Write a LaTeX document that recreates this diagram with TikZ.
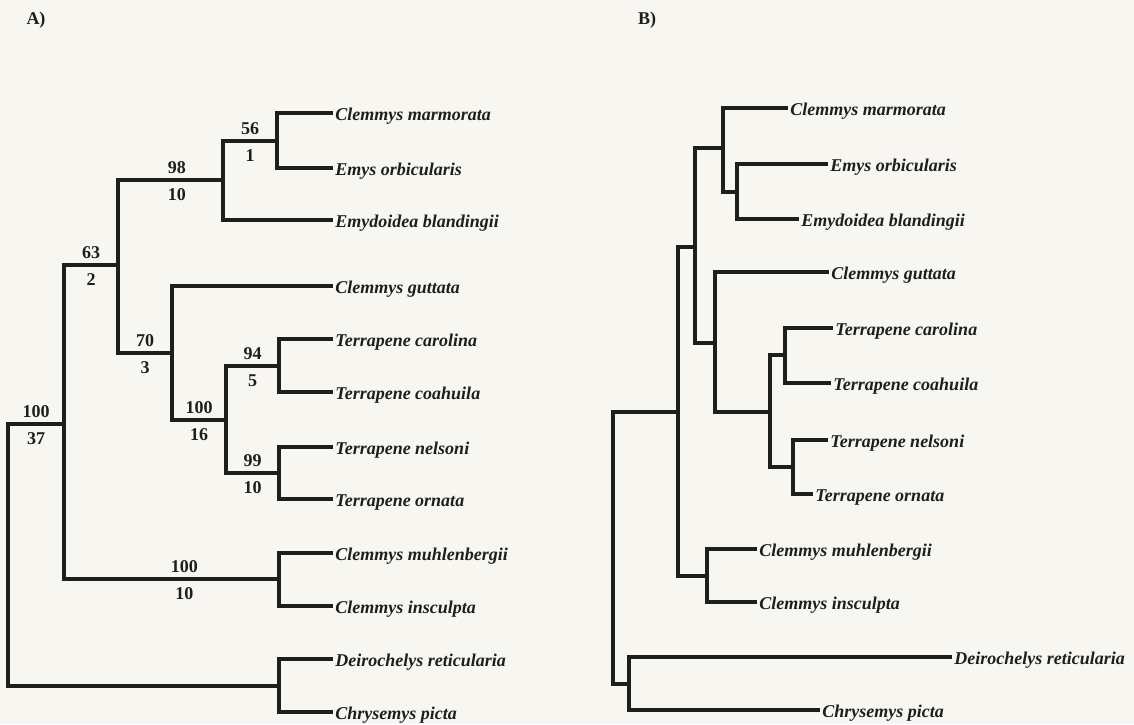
\documentclass[tikz,border=0pt]{standalone}
\usepackage{fontspec}
\setmainfont{Liberation Serif}
\definecolor{paper}{RGB}{247,246,240}
\definecolor{ink}{RGB}{30,30,30}
\newcommand{\treesize}{\fontsize{9}{11}\selectfont}

\begin{document}
\begin{tikzpicture}[x=0.5pt,y=-0.5pt,
    branch/.style={draw=ink,line width=1.6pt},
    taxon/.style={anchor=west,inner sep=1pt,text=ink,font=\treesize\bfseries\itshape,
                  text height=7pt,text depth=0pt},
    bs/.style={above=1.5pt,inner sep=1pt,text=ink,font=\treesize\bfseries},
    di/.style={below=2.5pt,inner sep=1pt,text=ink,font=\treesize\bfseries}]
  % Paper
  \fill[paper] (0,0) rectangle (1134,724);
  \useasboundingbox (0,0) rectangle (1134,724);

  % Panel labels
  \node[font=\treesize\bfseries,text=ink] (labA) at (36,20)  {A)};
  \node[font=\treesize\bfseries,text=ink] (labB) at (647,20) {B)};

  % A: taxa
  \node[taxon] (marmA)  at (333,113) {Clemmys marmorata};
  \node[taxon] (emysA)  at (333,168) {Emys orbicularis};
  \node[taxon] (blandA) at (333,220) {Emydoidea blandingii};
  \node[taxon] (guttA)  at (333,286) {Clemmys guttata};
  \node[taxon] (carolA) at (333,339) {Terrapene carolina};
  \node[taxon] (coahA)  at (333,392) {Terrapene coahuila};
  \node[taxon] (nelsA)  at (333,447) {Terrapene nelsoni};
  \node[taxon] (ornA)   at (333,499) {Terrapene ornata};
  \node[taxon] (muhlA)  at (333,553) {Clemmys muhlenbergii};
  \node[taxon] (inscA)  at (333,606) {Clemmys insculpta};
  \node[taxon] (deirA)  at (333,659) {Deirochelys reticularia};
  \node[taxon] (chrysA) at (333,712) {Chrysemys picta};

  % A: clades
  \coordinate (a0)  at (8,556);
  \coordinate (a1)  at (277,141);
  \coordinate (a2)  at (223,180);
  \coordinate (a3)  at (118,265);
  \coordinate (a4)  at (64,424);
  \coordinate (a5)  at (172,353);
  \coordinate (a6)  at (226,420);
  \coordinate (a7)  at (279,366);
  \coordinate (a8)  at (279,473);
  \coordinate (a9)  at (279,579);
  \coordinate (a10) at (279,686);

  % A: branches
  \draw[branch] (a0) |- (a4)  node[bs,pos=0.75] {100} node[di,pos=0.75] {37};
  \draw[branch] (a0) |- (a10);
  \draw[branch] (a4) |- (a3)  node[bs,pos=0.75] {63}  node[di,pos=0.75] {2};
  \draw[branch] (a4) |- (a9)  node[bs,pos=0.78] {100} node[di,pos=0.78] {10};
  \draw[branch] (a3) |- (a2)  node[bs,pos=0.78] {98}  node[di,pos=0.78] {10};
  \draw[branch] (a3) |- (a5)  node[bs,pos=0.75] {70}  node[di,pos=0.75] {3};
  \draw[branch] (a2) |- (a1)  node[bs,pos=0.75] {56}  node[di,pos=0.75] {1};
  \draw[branch] (a5) |- (a6)  node[bs,pos=0.75] {100} node[di,pos=0.75] {16};
  \draw[branch] (a6) |- (a7)  node[bs,pos=0.75] {94}  node[di,pos=0.75] {5};
  \draw[branch] (a6) |- (a8)  node[bs,pos=0.75] {99}  node[di,pos=0.75] {10};
  \draw[branch] (a1) |- (marmA.west);
  \draw[branch] (a1) |- (emysA.west);
  \draw[branch] (a2) |- (blandA.west);
  \draw[branch] (a5) |- (guttA.west);
  \draw[branch] (a7) |- (carolA.west);
  \draw[branch] (a7) |- (coahA.west);
  \draw[branch] (a8) |- (nelsA.west);
  \draw[branch] (a8) |- (ornA.west);
  \draw[branch] (a9) |- (muhlA.west);
  \draw[branch] (a9) |- (inscA.west);
  \draw[branch] (a10) |- (deirA.west);
  \draw[branch] (a10) |- (chrysA.west);

  % B: taxa
  \node[taxon] (marmB)  at (788,108) {Clemmys marmorata};
  \node[taxon] (emysB)  at (828,164) {Emys orbicularis};
  \node[taxon] (blandB) at (799,219) {Emydoidea blandingii};
  \node[taxon] (guttB)  at (829,272) {Clemmys guttata};
  \node[taxon] (carolB) at (833,328) {Terrapene carolina};
  \node[taxon] (coahB)  at (831,383) {Terrapene coahuila};
  \node[taxon] (nelsB)  at (828,440) {Terrapene nelsoni};
  \node[taxon] (ornB)   at (813,494) {Terrapene ornata};
  \node[taxon] (muhlB)  at (757,549) {Clemmys muhlenbergii};
  \node[taxon] (inscB)  at (757,602) {Clemmys insculpta};
  \node[taxon] (deirB)  at (952,657) {Deirochelys reticularia};
  \node[taxon] (chrysB) at (820,710) {Chrysemys picta};

  % B: clades
  \coordinate (b0)  at (613,548);
  \coordinate (b1)  at (723,148);
  \coordinate (b2)  at (737,192);
  \coordinate (b3)  at (695,247);
  \coordinate (b4)  at (678,412);
  \coordinate (b5)  at (715,343);
  \coordinate (b6)  at (770,412);
  \coordinate (b7)  at (785,355);
  \coordinate (b8)  at (793,467);
  \coordinate (b9)  at (707,576);
  \coordinate (b10) at (629,684);

  % B: branches
  \draw[branch] (b0) |- (b4);
  \draw[branch] (b0) |- (b10);
  \draw[branch] (b4) |- (b3);
  \draw[branch] (b4) |- (b9);
  \draw[branch] (b3) |- (b1);
  \draw[branch] (b3) |- (b5);
  \draw[branch] (b1) |- (b2);
  \draw[branch] (b5) |- (b6);
  \draw[branch] (b6) |- (b7);
  \draw[branch] (b6) |- (b8);
  \draw[branch] (b1) |- (marmB.west);
  \draw[branch] (b2) |- (emysB.west);
  \draw[branch] (b2) |- (blandB.west);
  \draw[branch] (b5) |- (guttB.west);
  \draw[branch] (b7) |- (carolB.west);
  \draw[branch] (b7) |- (coahB.west);
  \draw[branch] (b8) |- (nelsB.west);
  \draw[branch] (b8) |- (ornB.west);
  \draw[branch] (b9) |- (muhlB.west);
  \draw[branch] (b9) |- (inscB.west);
  \draw[branch] (b10) |- (deirB.west);
  \draw[branch] (b10) |- (chrysB.west);
\end{tikzpicture}
\end{document}
